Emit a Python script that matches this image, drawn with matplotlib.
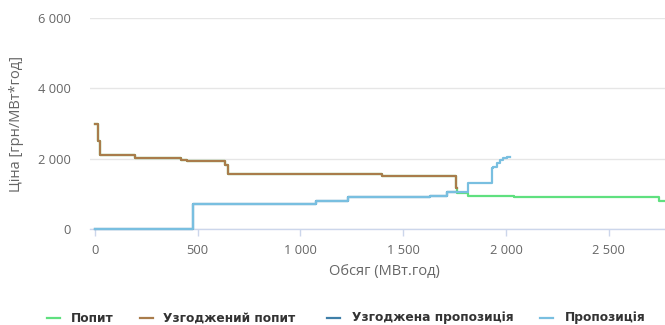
import matplotlib
matplotlib.use("Agg")
import matplotlib.pyplot as plt
from matplotlib.lines import Line2D
from matplotlib.ticker import FuncFormatter

# Full demand curve (volume breakpoints, MWh / price, UAH/MWh)
demand_q = [0, 15, 25, 195, 420, 446, 633, 649, 1395, 1700, 1757, 1763, 1815, 2040, 2745, 2790]
demand_p = [3000, 2500, 2100, 2010, 1970, 1920, 1830, 1560, 1520, 1500, 1180, 1010, 950, 910, 800, 800]

# Matched demand
matched_demand_q = [0, 15, 25, 195, 420, 446, 633, 649, 1395, 1700, 1757, 1763]
matched_demand_p = [3000, 2500, 2100, 2010, 1970, 1920, 1830, 1560, 1520, 1500, 1180, 1180]

# Supply curve
supply_q = [0, 475, 1075, 1230, 1630, 1711, 1815, 1930, 1939, 1955, 1971, 1987, 2006, 2019]
supply_p = [0, 700, 810, 900, 940, 1060, 1300, 1730, 1775, 1870, 1965, 2030, 2060, 2060]

# Matched supply
matched_supply_q = [0, 475, 1075, 1230, 1630, 1711, 1763]
matched_supply_p = [0, 700, 810, 900, 940, 1060, 1060]

series_names = ["Попит", "Узгоджений попит", "Узгоджена пропозиція", "Пропозиція"]
series_colors = ["#5fe07f", "#a97c4b", "#3f7fa8", "#79bfe0"]

y_ticks = [0, 2000, 4000, 6000]
x_ticks = [0, 500, 1000, 1500, 2000, 2500]

W, H = 665, 325
fig = plt.figure(figsize=(W / 100, H / 100), dpi=100)
fig.patch.set_facecolor("white")
ax = fig.add_axes([90 / W, 1 - 229 / H, (W - 90) / W, (229 - 18) / H])

lw = 1.6
ax.plot(demand_q, demand_p, drawstyle="steps-post", color=series_colors[0], lw=lw, zorder=3, clip_on=False)
ax.plot(matched_demand_q, matched_demand_p, drawstyle="steps-post", color=series_colors[1], lw=lw, zorder=4, clip_on=False)
ax.plot(matched_supply_q, matched_supply_p, drawstyle="steps-post", color=series_colors[2], lw=lw, zorder=5, clip_on=False)
ax.plot(supply_q, supply_p, drawstyle="steps-post", color=series_colors[3], lw=lw, zorder=6, clip_on=False)

ax.set_xlim(-24, 2774)
ax.set_ylim(0, 6000)

fmt = FuncFormatter(lambda v, pos: f"{int(v):,}".replace(",", " "))
ax.set_yticks(y_ticks)
ax.set_xticks(x_ticks)
ax.yaxis.set_major_formatter(fmt)
ax.xaxis.set_major_formatter(fmt)

for s in ["top", "right", "left"]:
    ax.spines[s].set_visible(False)
ax.spines["bottom"].set_color("#ccd6eb")
ax.spines["bottom"].set_linewidth(1)

ax.grid(axis="y", color="#e6e6e6", lw=1, zorder=0)
ax.set_axisbelow(True)

tick_family = ["Open Sans", "DejaVu Sans"]
ax.tick_params(axis="y", length=0, pad=14, labelcolor="#666666")
ax.tick_params(axis="x", length=5, width=1, color="#ccd6eb", pad=6, labelcolor="#666666")
for lbl in ax.get_xticklabels() + ax.get_yticklabels():
    lbl.set_fontfamily(tick_family)
    lbl.set_fontsize(9.3)

fig.text(384 / W, 1 - 272 / H, "Обсяг (МВт.год)", ha="center", va="center",
         color="#666666", family=tick_family, size=10.5)
fig.text(17 / W, 1 - 124 / H, "Ціна [грн/МВт*год]", ha="center", va="center", rotation=90,
         color="#666666", family=tick_family, size=10.5)

# Legend drawn along the bottom
line_x = [47, 140, 327, 540]
text_x = [71, 163, 352, 565]
ly = 1 - 318 / H
for name, col, lx, tx in zip(series_names, series_colors, line_x, text_x):
    fig.add_artist(Line2D([lx / W, (lx + 13) / W], [ly, ly], color=col, lw=1.6))
    fig.text(tx / W, ly, name, ha="left", va="center", color="#333333",
             family="DejaVu Sans", weight="bold", size=8.8)

fig.savefig("out.png", dpi=100, facecolor="white")
